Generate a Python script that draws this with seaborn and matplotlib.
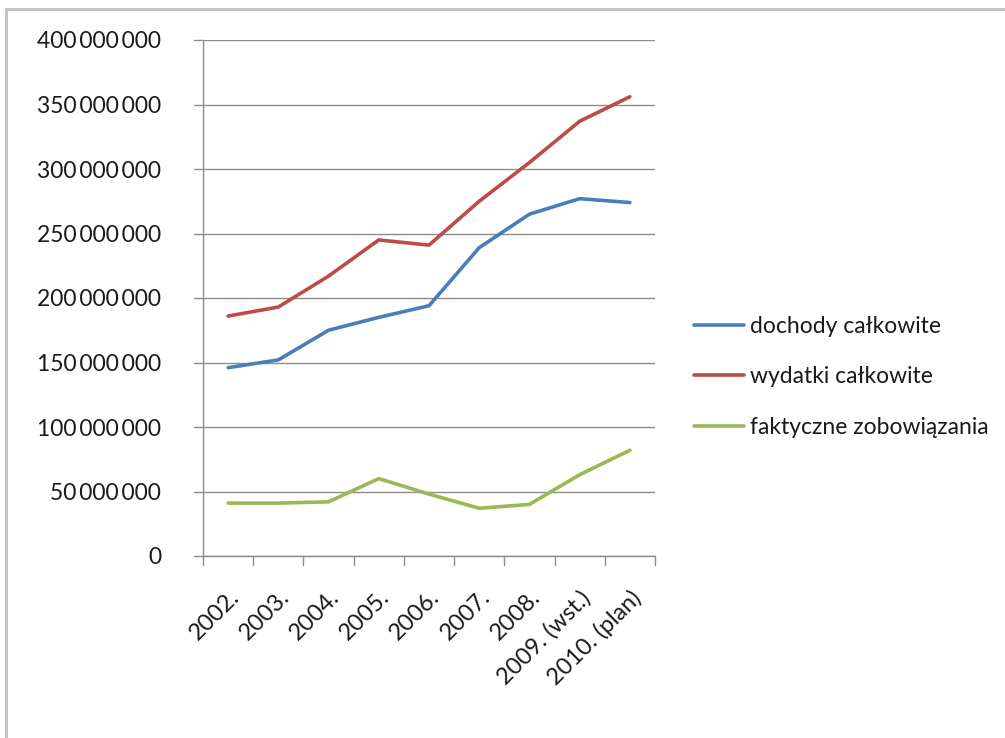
import matplotlib
matplotlib.use("Agg")
import matplotlib.pyplot as plt
from matplotlib.lines import Line2D
import seaborn as sns
import pandas as pd

categories = ["2002.", "2003.", "2004.", "2005.", "2006.", "2007.", "2008.",
              "2009. (wst.)", "2010. (plan)"]
dochody = [146e6, 152e6, 175e6, 185e6, 194e6, 239e6, 265e6, 277e6, 274e6]
wydatki = [186e6, 193e6, 217e6, 245e6, 241e6, 275e6, 305e6, 337e6, 356e6]
zobowiazania = [41e6, 41e6, 42e6, 60e6, 48e6, 37e6, 40e6, 63e6, 82e6]
series_names = ["dochody całkowite", "wydatki całkowite", "faktyczne zobowiązania"]
yticks = [0, 50e6, 100e6, 150e6, 200e6, 250e6, 300e6, 350e6, 400e6]

colors = ["#4A7EBB", "#BE4B48", "#98B954"]

sns.set_theme(style="white")
plt.rcParams['font.family'] = ['Lato', 'DejaVu Sans']

rows = []
for name, vals in zip(series_names, [dochody, wydatki, zobowiazania]):
    for i, (c, v) in enumerate(zip(categories, vals)):
        rows.append({"pos": i, "kat": c, "seria": name, "val": v})
df = pd.DataFrame(rows)

fig = plt.figure(figsize=(10.05, 7.38), dpi=100)
ax = fig.add_axes([203/1005, 1-556/738, (655-203)/1005, (556-40)/738])

sns.lineplot(data=df, x="pos", y="val", hue="seria", palette=colors,
             linewidth=2.6, ax=ax, legend=False, sort=False)

txt_color = "#1a1a1a"
ax.set_xlim(-0.5, len(categories) - 0.5)
ax.set_ylim(0, 400e6)
ax.set_yticks(yticks)
ax.set_yticklabels([f"{int(v):,}".replace(",", "\u2009") if v else "0" for v in yticks],
                   fontsize=16.5, color=txt_color)
ax.yaxis.grid(True, color="#8c8c8c", linewidth=1.0)
ax.xaxis.grid(False)
ax.set_xlabel("")
ax.set_ylabel("")

ax.set_xticks([i for i in range(len(categories))])
ax.set_xticklabels(categories, rotation=45, ha="right", rotation_mode="anchor",
                   fontsize=17, color=txt_color)
ax.tick_params(axis="x", length=0, pad=22)
for b in [i - 0.5 for i in range(len(categories) + 1)]:
    ax.plot([b, b], [0, -0.018], transform=ax.get_xaxis_transform(),
            color="#8c8c8c", lw=1.0, clip_on=False)
for t in yticks:
    ax.plot([-0.5, -0.5 - 0.18], [t, t], color="#8c8c8c", lw=1.0,
            clip_on=False)
ax.tick_params(axis="y", length=0, pad=30)

for s in ["top", "right"]:
    ax.spines[s].set_visible(False)
for s in ["left", "bottom"]:
    ax.spines[s].set_color("#8c8c8c")
    ax.spines[s].set_linewidth(1.0)

handles = [Line2D([0], [0], color=c, lw=2.6) for c in colors]
fig.legend(handles, series_names, loc="center left",
           bbox_to_anchor=(673/1005, 1-377/738), frameon=False, fontsize=16.5,
           handlelength=2.2, handletextpad=0.25, labelspacing=1.3,
           labelcolor=txt_color)

fig.add_artist(Line2D([6/1005, 6/1005], [0, 1-9/738], color="#c0c0c0", lw=2,
                      transform=fig.transFigure))
fig.add_artist(Line2D([6/1005, 1], [1-9/738, 1-9/738], color="#c0c0c0", lw=2,
                      transform=fig.transFigure))

fig.savefig("out.png", dpi=100)
